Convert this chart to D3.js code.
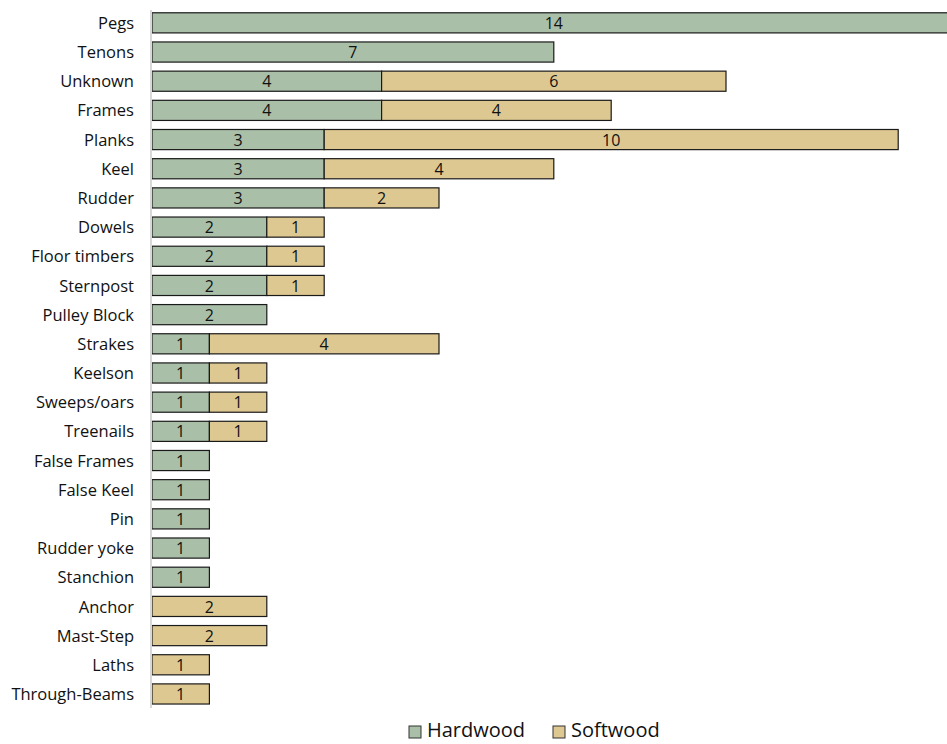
<!DOCTYPE html>
<html>
<head>
<meta charset="utf-8">
<script src="https://cdn.jsdelivr.net/npm/d3@7"></script>
<style>
  body { margin: 0; background: #fff; }
  text { font-family: "Open Sans", "Noto Sans", sans-serif; fill: #111; }
</style>
</head>
<body>
<svg width="947" height="744"></svg>
<script>
// data
var categories = ["Pegs", "Tenons", "Unknown", "Frames", "Planks", "Keel", "Rudder", "Dowels",
  "Floor timbers", "Sternpost", "Pulley Block", "Strakes", "Keelson", "Sweeps/oars", "Treenails",
  "False Frames", "False Keel", "Pin", "Rudder yoke", "Stanchion", "Anchor", "Mast-Step", "Laths",
  "Through-Beams"];
var hardwood = [14, 7, 4, 4, 3, 3, 3, 2, 2, 2, 2, 1, 1, 1, 1, 1, 1, 1, 1, 1, 0, 0, 0, 0];
var softwood = [0, 0, 6, 4, 10, 4, 2, 1, 1, 1, 0, 4, 1, 1, 1, 0, 0, 0, 0, 0, 2, 2, 1, 1];
var seriesNames = ["Hardwood", "Softwood"];
var seriesColors = ["#a9bfa8", "#dec891"];

var svg = d3.select("svg"),
  width = +svg.attr("width"),
  height = +svg.attr("height");

var rows = categories.map(function(c, i) {
  return { cat: c, Hardwood: hardwood[i], Softwood: softwood[i] };
});
var stack = d3.stack().keys(seriesNames)(rows);

// x scale: 0 at the axis line, one unit ~57.4px (pegs runs past the edge)
var x = d3.scaleLinear().domain([0, 14]).range([152, 152 + 14 * 57.4]);
var y = d3.scaleBand().domain(categories).range([8.4, 708.4]).paddingInner(0.31).paddingOuter(0.15);

var color = d3.scaleOrdinal().domain(seriesNames).range(seriesColors);

// bars
var layer = svg.append("g").selectAll("g")
  .data(stack)
  .enter().append("g")
  .attr("fill", function(d) { return color(d.key); });

layer.selectAll("rect")
  .data(function(d) { return d.filter(function(p) { return p[1] - p[0] > 0; }); })
  .enter().append("rect")
  .attr("x", function(d) { return x(d[0]); })
  .attr("y", function(d) { return y(d.data.cat); })
  .attr("width", function(d) { return x(d[1]) - x(d[0]); })
  .attr("height", y.bandwidth())
  .attr("stroke", "#1a1a1a")
  .attr("stroke-width", 1.2);

// value labels
layer.selectAll("text")
  .data(function(d) { return d.filter(function(p) { return p[1] - p[0] > 0; }); })
  .enter().append("text")
  .attr("x", function(d) { return (x(d[0]) + x(d[1])) / 2; })
  .attr("y", function(d) { return y(d.data.cat) + y.bandwidth() / 2; })
  .attr("dy", "0.38em")
  .attr("text-anchor", "middle")
  .attr("font-size", 16)
  .text(function(d) { return d[1] - d[0]; });

// axis line
svg.append("line")
  .attr("x1", x(0) - 1).attr("x2", x(0) - 1)
  .attr("y1", 10).attr("y2", 708)
  .attr("stroke", "#d9d9d9")
  .attr("stroke-width", 2);

// category labels
var yAxis = d3.axisLeft(y).tickSize(0).tickPadding(0);
var ga = svg.append("g")
  .attr("transform", "translate(134,0.8)")
  .call(yAxis);
ga.select(".domain").remove();
ga.selectAll("text")
  .attr("font-size", 16.5)
  .attr("font-family", "\"Open Sans\", sans-serif")
  .attr("fill", "#111");

// legend
var legend = svg.append("g").attr("transform", "translate(0,730)");
var legX = [409, 553];
seriesNames.forEach(function(name, i) {
  legend.append("rect")
    .attr("x", legX[i]).attr("y", -4)
    .attr("width", 12).attr("height", 12)
    .attr("fill", seriesColors[i])
    .attr("stroke", "#333")
    .attr("stroke-width", 1);
  legend.append("text")
    .attr("x", legX[i] + 18).attr("y", 0)
    .attr("dy", "0.36em")
    .attr("font-size", 20)
    .text(name);
});
</script>
</body>
</html>
